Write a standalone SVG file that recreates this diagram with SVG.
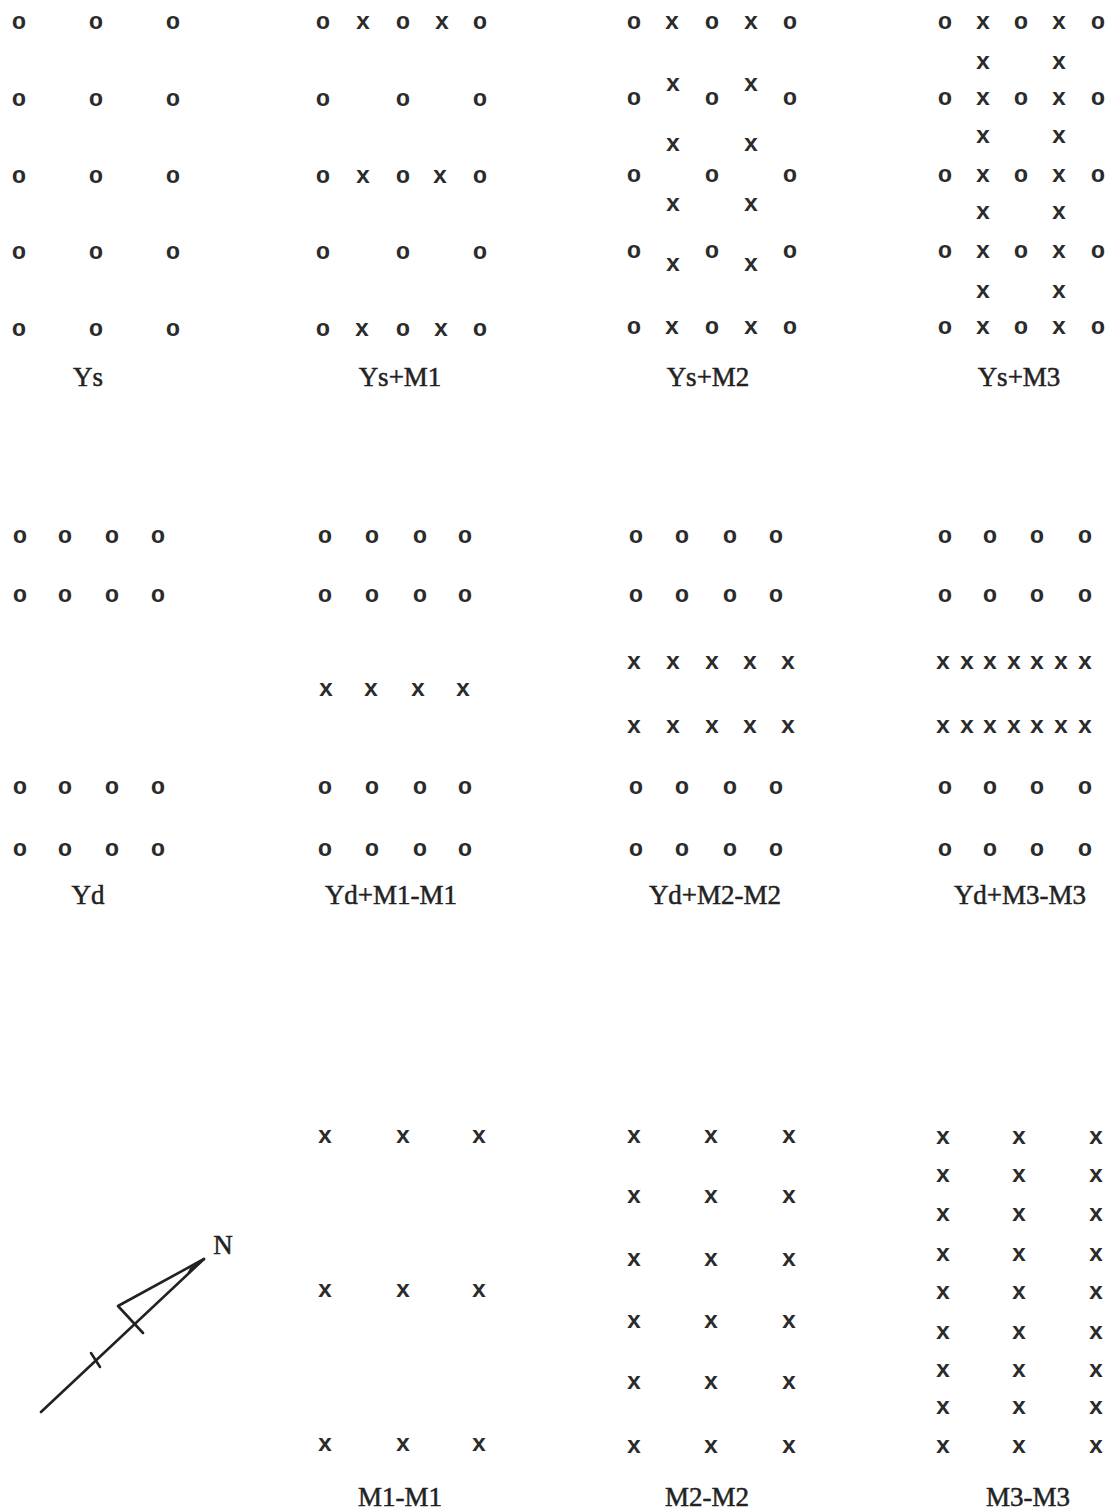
<svg xmlns="http://www.w3.org/2000/svg" width="1114" height="1512" viewBox="0 0 1114 1512">
<style>
.m{font-family:"Liberation Mono","DejaVu Sans Mono",monospace;font-size:24px;font-weight:bold;fill:#2b2b2b;text-anchor:middle}
.lbl{font-family:"Liberation Serif","DejaVu Serif",serif;font-size:27px;fill:#222;text-anchor:middle;stroke:#222;stroke-width:0.5}
.ln{stroke:#222;stroke-width:2.6;fill:none;stroke-linecap:round;stroke-linejoin:round}
</style>
<rect width="1114" height="1512" fill="#ffffff"/>

<g id="ys">
<text class="m" x="19 96 173" y="29">ooo</text>
<text class="m" x="19 96 173" y="106">ooo</text>
<text class="m" x="19 96 173" y="183">ooo</text>
<text class="m" x="19 96 173" y="259">ooo</text>
<text class="m" x="19 96 173" y="336">ooo</text>
<text class="lbl" x="88" y="386">Ys</text>
</g>

<g id="ys-m1">
<text class="m" x="323 363 403 442 480" y="29">oxoxo</text>
<text class="m" x="323 403 480" y="106">ooo</text>
<text class="m" x="323 363 403 440 480" y="183">oxoxo</text>
<text class="m" x="323 403 480" y="259">ooo</text>
<text class="m" x="323 362 403 441 480" y="336">oxoxo</text>
<text class="lbl" x="400" y="386">Ys+M1</text>
</g>

<g id="ys-m2">
<text class="m" x="634 672 712 751 790" y="29">oxoxo</text>
<text class="m" x="634 673 712 751 790" y="105 91 105 91 105">oxoxo</text>
<text class="m" x="673 751" y="151">xx</text>
<text class="m" x="634 712 790" y="182">ooo</text>
<text class="m" x="673 751" y="211">xx</text>
<text class="m" x="634 673 712 751 790" y="258 271 258 271 258">oxoxo</text>
<text class="m" x="634 672 712 751 790" y="334">oxoxo</text>
<text class="lbl" x="708" y="386">Ys+M2</text>
</g>

<g id="ys-m3">
<text class="m" x="945 983 1021 1059 1098" y="29">oxoxo</text>
<text class="m" x="983 1059" y="69">xx</text>
<text class="m" x="945 983 1021 1059 1098" y="105">oxoxo</text>
<text class="m" x="983 1059" y="143">xx</text>
<text class="m" x="945 983 1021 1059 1098" y="182">oxoxo</text>
<text class="m" x="983 1059" y="219">xx</text>
<text class="m" x="945 983 1021 1059 1098" y="258">oxoxo</text>
<text class="m" x="983 1059" y="298">xx</text>
<text class="m" x="945 983 1021 1059 1098" y="334">oxoxo</text>
<text class="lbl" x="1019" y="386">Ys+M3</text>
</g>

<g id="yd">
<text class="m" x="20 65 112 158" y="543">oooo</text>
<text class="m" x="20 65 112 158" y="602">oooo</text>
<text class="m" x="20 65 112 158" y="794">oooo</text>
<text class="m" x="20 65 112 158" y="856">oooo</text>
<text class="lbl" x="88" y="904">Yd</text>
</g>

<g id="yd-m1-m1">
<text class="m" x="325 372 420 465" y="543">oooo</text>
<text class="m" x="325 372 420 465" y="602">oooo</text>
<text class="m" x="326 371 418 463" y="696">xxxx</text>
<text class="m" x="325 372 420 465" y="794">oooo</text>
<text class="m" x="325 372 420 465" y="856">oooo</text>
<text class="lbl" x="391" y="904">Yd+M1-M1</text>
</g>

<g id="yd-m2-m2">
<text class="m" x="636 682 730 776" y="543">oooo</text>
<text class="m" x="636 682 730 776" y="602">oooo</text>
<text class="m" x="634 673 712 750 788" y="669">xxxxx</text>
<text class="m" x="634 673 712 750 788" y="733">xxxxx</text>
<text class="m" x="636 682 730 776" y="794">oooo</text>
<text class="m" x="636 682 730 776" y="856">oooo</text>
<text class="lbl" x="715" y="904">Yd+M2-M2</text>
</g>

<g id="yd-m3-m3">
<text class="m" x="945 990 1037 1085" y="543">oooo</text>
<text class="m" x="945 990 1037 1085" y="602">oooo</text>
<text class="m" x="943 967 990 1014 1037 1061 1085" y="669">xxxxxxx</text>
<text class="m" x="943 967 990 1014 1037 1061 1085" y="733">xxxxxxx</text>
<text class="m" x="945 990 1037 1085" y="794">oooo</text>
<text class="m" x="945 990 1037 1085" y="856">oooo</text>
<text class="lbl" x="1020" y="904">Yd+M3-M3</text>
</g>

<g id="north-arrow">
<path class="ln" d="M41 1412 L204 1259"/>
<path class="ln" d="M204 1259 L118 1306 L143 1333"/>
<path d="M204 1259 L186 1276 L190 1268 Z" fill="#222"/>
<path class="ln" d="M91 1353 L100 1367"/>
<text class="lbl" x="223" y="1254">N</text>
</g>

<g id="m1-m1">
<text class="m" x="325 403 479" y="1143">xxx</text>
<text class="m" x="325 403 479" y="1297">xxx</text>
<text class="m" x="325 403 479" y="1451">xxx</text>
<text class="lbl" x="400" y="1506">M1-M1</text>
</g>

<g id="m2-m2">
<text class="m" x="634 711 789" y="1143">xxx</text>
<text class="m" x="634 711 789" y="1203">xxx</text>
<text class="m" x="634 711 789" y="1266">xxx</text>
<text class="m" x="634 711 789" y="1328">xxx</text>
<text class="m" x="634 711 789" y="1389">xxx</text>
<text class="m" x="634 711 789" y="1453">xxx</text>
<text class="lbl" x="707" y="1506">M2-M2</text>
</g>

<g id="m3-m3">
<text class="m" x="943 1019 1096" y="1144">xxx</text>
<text class="m" x="943 1019 1096" y="1182">xxx</text>
<text class="m" x="943 1019 1096" y="1221">xxx</text>
<text class="m" x="943 1019 1096" y="1261">xxx</text>
<text class="m" x="943 1019 1096" y="1299">xxx</text>
<text class="m" x="943 1019 1096" y="1339">xxx</text>
<text class="m" x="943 1019 1096" y="1377">xxx</text>
<text class="m" x="943 1019 1096" y="1414">xxx</text>
<text class="m" x="943 1019 1096" y="1453">xxx</text>
<text class="lbl" x="1028" y="1506">M3-M3</text>
</g>

<g id="connectors"></g>
</svg>
